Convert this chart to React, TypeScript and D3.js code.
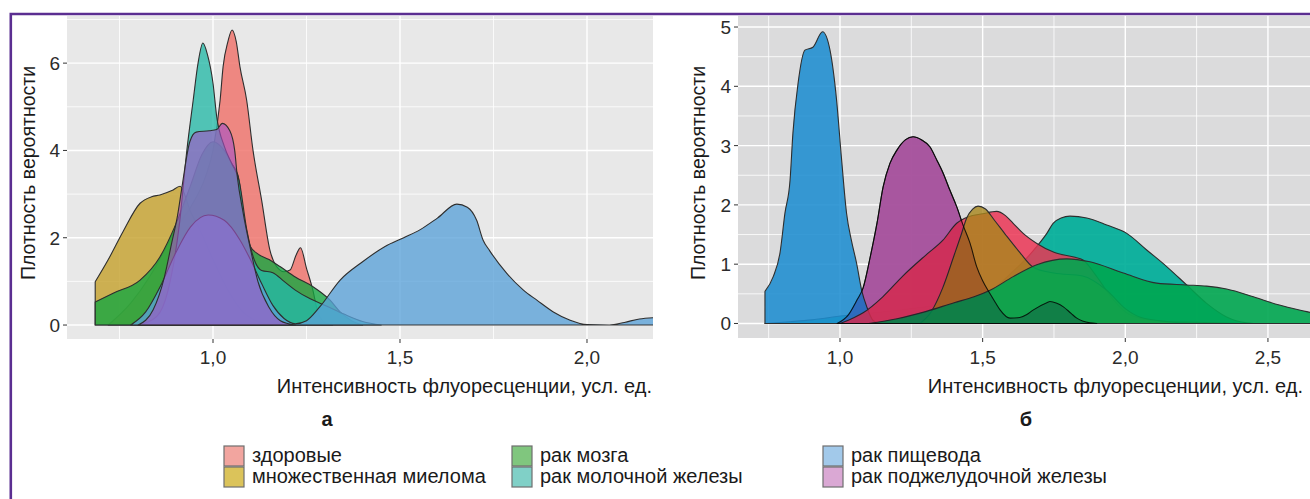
import React from 'react';
import * as d3 from 'd3';

type Pt = [number, number];

const categories = [
  'здоровые',
  'множественная миелома',
  'рак мозга',
  'рак молочной железы',
  'рак пищевода',
  'рак поджелудочной железы',
];

// panel "а": density estimates [intensity, density]
const healthyA: Pt[] = [[0.72, 0], [0.78, 0.5], [0.83, 1.1], [0.87, 1.7], [0.9, 2.2], [0.94, 2.7], [0.98, 3.4], [1.0, 4.0], [1.019, 5.15], [1.027, 5.92], [1.04, 6.5], [1.051, 6.76], [1.062, 6.5], [1.072, 5.92], [1.09, 5.15], [1.107, 4.0], [1.13, 2.86], [1.152, 1.72], [1.17, 1.34], [1.19, 1.22], [1.206, 1.26], [1.222, 1.6], [1.234, 1.77], [1.25, 1.3], [1.267, 0.8], [1.28, 0.3], [1.3, 0.05], [1.32, 0]];
const myelomaA: Pt[] = [[0.685, 0.99], [0.72, 1.5], [0.76, 2.15], [0.805, 2.79], [0.836, 2.94], [0.858, 2.98], [0.89, 3.08], [0.912, 3.18], [0.94, 2.6], [0.965, 2.18], [1.0, 1.5], [1.04, 0.8], [1.08, 0.3], [1.12, 0.08], [1.16, 0]];
const brainA: Pt[] = [[0.685, 0.53], [0.733, 0.73], [0.805, 1.03], [0.858, 1.56], [0.9, 2.3], [0.94, 3.2], [0.97, 3.9], [1.0, 4.2], [1.03, 4.0], [1.05, 3.7], [1.067, 3.43], [1.085, 2.3], [1.1, 1.8], [1.118, 1.64], [1.15, 1.5], [1.179, 1.34], [1.22, 1.1], [1.267, 0.88], [1.313, 0.57], [1.34, 0.3], [1.37, 0.1], [1.4, 0]];
const breastA: Pt[] = [[0.8, 0], [0.85, 0.2], [0.88, 0.8], [0.91, 2.3], [0.93, 4.0], [0.947, 5.15], [0.96, 6.0], [0.973, 6.46], [0.985, 6.2], [1.0, 5.54], [1.01, 4.77], [1.03, 4.1], [1.05, 3.7], [1.07, 3.3], [1.09, 2.2], [1.11, 1.5], [1.13, 1.25], [1.16, 1.2], [1.19, 1.0], [1.22, 0.8], [1.26, 0.6], [1.3, 0.45], [1.35, 0.25], [1.4, 0.08], [1.45, 0]];
const esophagusA: Pt[] = [[0.78, 0], [0.82, 0.3], [0.86, 0.9], [0.9, 1.65], [0.94, 2.25], [0.987, 2.52], [1.03, 2.4], [1.072, 1.95], [1.1, 1.5], [1.13, 0.95], [1.16, 0.45], [1.19, 0.15], [1.22, 0.03], [1.25, 0.1], [1.286, 0.42], [1.34, 1.03], [1.4, 1.45], [1.46, 1.8], [1.51, 2.0], [1.553, 2.18], [1.6, 2.45], [1.652, 2.77], [1.68, 2.7], [1.705, 2.4], [1.722, 1.95], [1.74, 1.7], [1.785, 1.19], [1.83, 0.8], [1.866, 0.57], [1.91, 0.3], [1.955, 0.11], [2.0, 0.01], [2.06, 0.0], [2.1, 0.06], [2.14, 0.14], [2.18, 0.17]];
const pancreasA: Pt[] = [[0.8, 0], [0.84, 0.35], [0.87, 1.1], [0.89, 1.9], [0.905, 2.5], [0.917, 3.16], [0.938, 4.2], [0.955, 4.42], [0.99, 4.45], [1.01, 4.48], [1.025, 4.62], [1.045, 4.45], [1.058, 4.0], [1.065, 3.4], [1.08, 2.6], [1.1, 1.75], [1.12, 1.0], [1.15, 0.4], [1.18, 0.1], [1.22, 0]];

// panel "б"
const healthyB: Pt[] = [[1.0, 0], [1.05, 0.1], [1.081, 0.18], [1.15, 0.45], [1.22, 0.8], [1.3, 1.15], [1.36, 1.4], [1.409, 1.69], [1.45, 1.8], [1.5, 1.85], [1.549, 1.89], [1.58, 1.82], [1.607, 1.69], [1.642, 1.52], [1.69, 1.35], [1.75, 1.2], [1.82, 1.12], [1.852, 1.07], [1.9, 0.79], [1.95, 0.45], [2.005, 0.18], [2.07, 0.07], [2.14, 0.03], [2.25, 0.02], [2.4, 0]];
const myelomaB: Pt[] = [[1.28, 0], [1.32, 0.2], [1.36, 0.6], [1.4, 1.15], [1.425, 1.5], [1.444, 1.78], [1.465, 1.93], [1.484, 1.98], [1.51, 1.93], [1.54, 1.75], [1.58, 1.5], [1.63, 1.2], [1.677, 0.95], [1.75, 0.85], [1.85, 0.8], [1.935, 0.56], [2.0, 0.25], [2.05, 0.11], [2.15, 0.03], [2.25, 0]];
const brainB: Pt[] = [[1.1, 0], [1.2, 0.08], [1.3, 0.2], [1.4, 0.35], [1.47, 0.45], [1.526, 0.56], [1.607, 0.79], [1.69, 0.99], [1.795, 1.09], [1.876, 1.04], [1.993, 0.85], [2.11, 0.68], [2.215, 0.65], [2.285, 0.63], [2.355, 0.58], [2.449, 0.45], [2.54, 0.31], [2.636, 0.2], [2.7, 0.13]];
const breastB: Pt[] = [[0.737, 0], [0.825, 0.03], [0.9, 0.06], [1.011, 0.13], [1.1, 0.17], [1.2, 0.22], [1.3, 0.28], [1.397, 0.34], [1.46, 0.42], [1.526, 0.54], [1.6, 0.85], [1.65, 1.08], [1.69, 1.3], [1.725, 1.52], [1.747, 1.69], [1.775, 1.78], [1.806, 1.81], [1.865, 1.78], [1.935, 1.66], [2.005, 1.52], [2.075, 1.24], [2.145, 0.96], [2.215, 0.65], [2.285, 0.34], [2.355, 0.11], [2.425, 0.01], [2.45, 0]];
const esophagusB: Pt[] = [[0.737, 0.54], [0.766, 0.79], [0.79, 1.2], [0.807, 1.86], [0.825, 2.42], [0.835, 3.21], [0.853, 4.05], [0.877, 4.61], [0.905, 4.66], [0.939, 4.92], [0.965, 4.61], [0.988, 3.77], [1.005, 2.8], [1.023, 1.86], [1.04, 1.4], [1.058, 1.02], [1.076, 0.56], [1.094, 0.28], [1.116, 0.05], [1.14, 0]];
const pancreasB: Pt[] = [[0.99, 0], [1.03, 0.15], [1.06, 0.4], [1.081, 0.6], [1.105, 1.1], [1.13, 1.7], [1.151, 2.3], [1.175, 2.7], [1.199, 2.92], [1.23, 3.1], [1.256, 3.15], [1.285, 3.1], [1.315, 2.98], [1.34, 2.75], [1.362, 2.53], [1.385, 2.25], [1.409, 1.97], [1.432, 1.65], [1.456, 1.35], [1.479, 0.96], [1.5, 0.72], [1.526, 0.5], [1.545, 0.35], [1.561, 0.23], [1.596, 0.09], [1.63, 0.1], [1.655, 0.15], [1.678, 0.23], [1.725, 0.35], [1.736, 0.37], [1.76, 0.34], [1.783, 0.28], [1.81, 0.17], [1.83, 0.09], [1.876, 0.01], [1.9, 0]];

const seriesA = [healthyA, myelomaA, brainA, breastA, esophagusA, pancreasA];
const seriesB = [healthyB, myelomaB, brainB, breastB, esophagusB, pancreasB];

const xTicksA = [1.0, 1.5, 2.0];
const xMinorA = [0.75, 1.25, 1.75];
const yTicksA = [0, 2, 4, 6];
const yMinorA = [1, 3, 5, 7];

const xTicksB = [1.0, 1.5, 2.0, 2.5];
const xMinorB = [0.75, 1.25, 1.75, 2.25];
const yTicksB = [0, 1, 2, 3, 4, 5];
const yMinorB = [0.5, 1.5, 2.5, 3.5, 4.5];

// styling
const colorsA = ['#ef6e67', '#c4a02a', '#12a640', '#25b9a7', '#5aa2d9', '#a452c6'];
const opacityA = [0.8, 0.8, 0.78, 0.78, 0.78, 0.62];
const orderA = [0, 1, 2, 3, 4, 5];
const colorsB = ['#ec3554', '#a8861c', '#00a650', '#00ae98', '#1e8dd0', '#b867a8'];
const opacityB = [0.84, 0.8, 0.9, 0.92, 0.88, 0.95];
const orderB = [3, 5, 4, 0, 1, 2];
// extra multiply pass of one series drawn on top (index, colour, opacity)
const overlayB = {index: 5, color: '#c885d8', opacity: 0.45};
const keyColors = ['#f2a59f', '#dbc35a', '#80c67e', '#80d0c7', '#a2c9ea', '#daa8d4'];

const FONT = '"Liberation Sans", Arial, Helvetica, sans-serif';
const fmt = (v: number) => v.toFixed(1).replace('.', ',');

type Overlay = {index: number; color: string; opacity: number};

type PanelProps = {
  id: string;
  series: Pt[][];
  colors: string[];
  opacity: number[];
  order: number[];
  overlay?: Overlay;
  x: d3.ScaleLinear<number, number>;
  y: d3.ScaleLinear<number, number>;
  xTicks: number[];
  xMinor: number[];
  yTicks: number[];
  yMinor: number[];
  bg: string;
  yTitleX: number;
};

const Panel = ({id, series, colors, opacity, order, overlay, x, y, xTicks, xMinor, yTicks, yMinor, bg, yTitleX}: PanelProps) => {
  const [x0, x1] = x.range();
  const y0 = y.range()[0];
  const y1 = y.range()[1];
  const area = d3.area<Pt>()
    .x(d => x(d[0]))
    .y0(y(0))
    .y1(d => y(d[1]))
    .curve(d3.curveMonotoneX);
  return (
    <g>
      <defs>
        <clipPath id={id}>
          <rect x={x0} y={y1} width={x1 - x0} height={y0 - y1} />
        </clipPath>
      </defs>
      <g clipPath={`url(#${id})`}>
        <rect x={x0} y={y1} width={x1 - x0} height={y0 - y1} fill={bg} />
        {yMinor.map(v => (
          <line key={'ym' + v} x1={x0} x2={x1} y1={y(v)} y2={y(v)} stroke="#fff" strokeWidth={0.8} />
        ))}
        {xMinor.map(v => (
          <line key={'xm' + v} x1={x(v)} x2={x(v)} y1={y1} y2={y0} stroke="#fff" strokeWidth={0.8} />
        ))}
        {yTicks.map(v => (
          <line key={'yM' + v} x1={x0} x2={x1} y1={y(v)} y2={y(v)} stroke="#fff" strokeWidth={1.4} />
        ))}
        {xTicks.map(v => (
          <line key={'xM' + v} x1={x(v)} x2={x(v)} y1={y1} y2={y0} stroke="#fff" strokeWidth={1.4} />
        ))}
        {order.map(i => (
          <path key={i} d={area(series[i]) ?? ''} fill={colors[i]} fillOpacity={opacity[i]}
            stroke="#2e2e2e" strokeWidth={1.1} strokeLinejoin="round" />
        ))}
        {overlay && (
          <path d={area(series[overlay.index]) ?? ''} fill={overlay.color} fillOpacity={overlay.opacity}
            stroke="#2e2e2e" strokeWidth={1.1} strokeLinejoin="round"
            style={{mixBlendMode: 'multiply'}} />
        )}
      </g>
      {yTicks.map(v => (
        <g key={'yt' + v}>
          <line x1={x0 - 4} x2={x0} y1={y(v)} y2={y(v)} stroke="#333" strokeWidth={1} />
          <text x={x0 - 7} y={y(v) + 7} textAnchor="end" fontSize={19} fill="#2b2b2b">{String(v)}</text>
        </g>
      ))}
      {xTicks.map(v => (
        <g key={'xt' + v}>
          <line x1={x(v)} x2={x(v)} y1={y0} y2={y0 + 4} stroke="#333" strokeWidth={1} />
          <text x={x(v)} y={364} textAnchor="middle" fontSize={19} fill="#2b2b2b">{fmt(v)}</text>
        </g>
      ))}
      <text transform={`translate(${yTitleX},173) rotate(-90)`} textAnchor="middle" fontSize={19.5} fill="#1a1a1a">
        Плотность вероятности
      </text>
    </g>
  );
};

const App = () => {
  const xA = d3.scaleLinear().domain([0.6096, 2.1765]).range([67, 653]);
  const yA = d3.scaleLinear().domain([-0.32, 7.08]).range([339, 16]);
  const xB = d3.scaleLinear().domain([0.6425, 2.6474]).range([738, 1310]);
  const yB = d3.scaleLinear().domain([-0.245, 5.186]).range([338, 16]);

  const legendCols = [224, 512, 823];
  const legendRows = [446, 467];

  return (
    <svg width={1310} height={499} style={{position: 'absolute', left: 0, top: 0, background: '#fff'}}
      fontFamily={FONT}>
      <Panel id="clipA" series={seriesA} colors={colorsA} opacity={opacityA} order={orderA} x={xA} y={yA}
        xTicks={xTicksA} xMinor={xMinorA} yTicks={yTicksA} yMinor={yMinorA} bg="#e8e8e8" yTitleX={35} />
      <Panel id="clipB" series={seriesB} colors={colorsB} opacity={opacityB} order={orderB} overlay={overlayB} x={xB} y={yB}
        xTicks={xTicksB} xMinor={xMinorB} yTicks={yTicksB} yMinor={yMinorB} bg="#dbdbdc" yTitleX={705} />

      <text x={652} y={393} textAnchor="end" fontSize={20} fill="#1a1a1a">Интенсивность флуоресценции, усл. ед.</text>
      <text x={1303} y={393} textAnchor="end" fontSize={20} fill="#1a1a1a">Интенсивность флуоресценции, усл. ед.</text>
      <text x={327} y={426} textAnchor="middle" fontSize={20} fontWeight="bold" fill="#1a1a1a">а</text>
      <text x={1026} y={426} textAnchor="middle" fontSize={20} fontWeight="bold" fill="#1a1a1a">б</text>

      {categories.map((c, i) => {
        const col = Math.floor(i / 2);
        const row = i % 2;
        const lx = legendCols[col];
        const ly = legendRows[row];
        return (
          <g key={c}>
            <rect x={lx} y={ly} width={20} height={20} fill={keyColors[i]} stroke="#6e6e6e" strokeWidth={1.2} />
            <text x={lx + 28} y={ly + 16} fontSize={20} fill="#1a1a1a">{c}</text>
          </g>
        );
      })}

      <path d="M10.8,499 V14 H1310" fill="none" stroke="#5b2e91" strokeWidth={2.6} />
    </svg>
  );
};

export default App;
